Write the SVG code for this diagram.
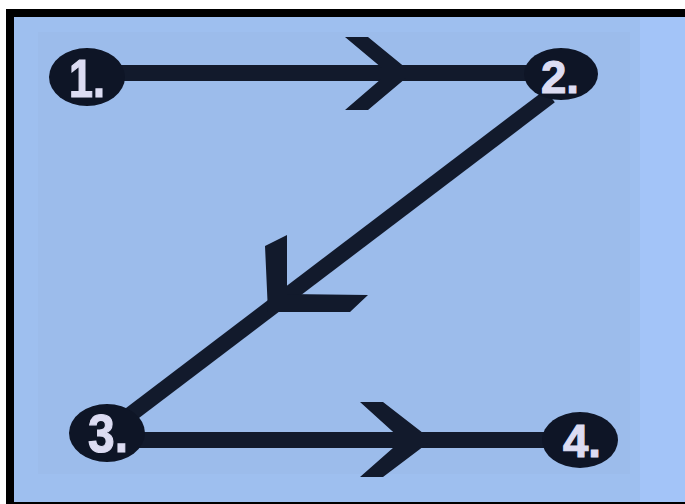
<svg xmlns="http://www.w3.org/2000/svg" width="685" height="504" viewBox="0 0 685 504">
  <style>
    .node { fill: #0e1526; }
    .label { font-family: "Liberation Sans", Arial, sans-serif; font-weight: bold; font-size: 54px; fill: #dcdcf2; stroke: #dcdcf2; stroke-width: 1.2; text-anchor: middle; }
    .conn { stroke: #121a2c; stroke-width: 16; fill: none; stroke-linecap: butt; }
    .head { fill: #121a2c; }
  </style>
  <rect x="0" y="0" width="685" height="504" fill="#ffffff"/>
  <rect x="6" y="9" width="679" height="495" fill="#000000"/>
  <rect x="14" y="17" width="671" height="485" fill="#a3c4f8"/>
  <rect x="14" y="17" width="626" height="485" fill="#9ebfef"/>
  <rect x="38" y="32" width="592" height="442" fill="#9cbceb"/>

  <g id="connectors">
    <line class="conn" x1="110" y1="73" x2="540" y2="73"/>
    <polygon class="head" points="345,37 368,37 412,73 368,110 345,110 388,73"/>
    <line class="conn" x1="550" y1="96" x2="118" y2="424" stroke-width="17"/>
    <polygon class="head" points="265,246 287,235 287,294 368,295 350,312 268,312"/>
    <line class="conn" x1="130" y1="440" x2="560" y2="440"/>
    <polygon class="head" points="360,402 383,402 432,440 383,477 360,477 402,440"/>
  </g>

  <g id="node1">
    <ellipse class="node" cx="87" cy="77" rx="38" ry="29"/>
    <text class="label" x="87" y="97" textLength="36" lengthAdjust="spacingAndGlyphs">1.</text>
  </g>
  <g id="node2">
    <ellipse class="node" cx="561" cy="74" rx="37" ry="26"/>
    <text class="label" x="560" y="93" textLength="38" lengthAdjust="spacingAndGlyphs" style="font-size:47px">2.</text>
  </g>
  <g id="node3">
    <ellipse class="node" cx="107" cy="433" rx="38" ry="29"/>
    <text class="label" x="108" y="452" textLength="40" lengthAdjust="spacingAndGlyphs">3.</text>
  </g>
  <g id="node4">
    <ellipse class="node" cx="580" cy="440" rx="38" ry="28"/>
    <text class="label" x="582" y="457" textLength="38" lengthAdjust="spacingAndGlyphs" style="font-size:47px">4.</text>
  </g>
</svg>
